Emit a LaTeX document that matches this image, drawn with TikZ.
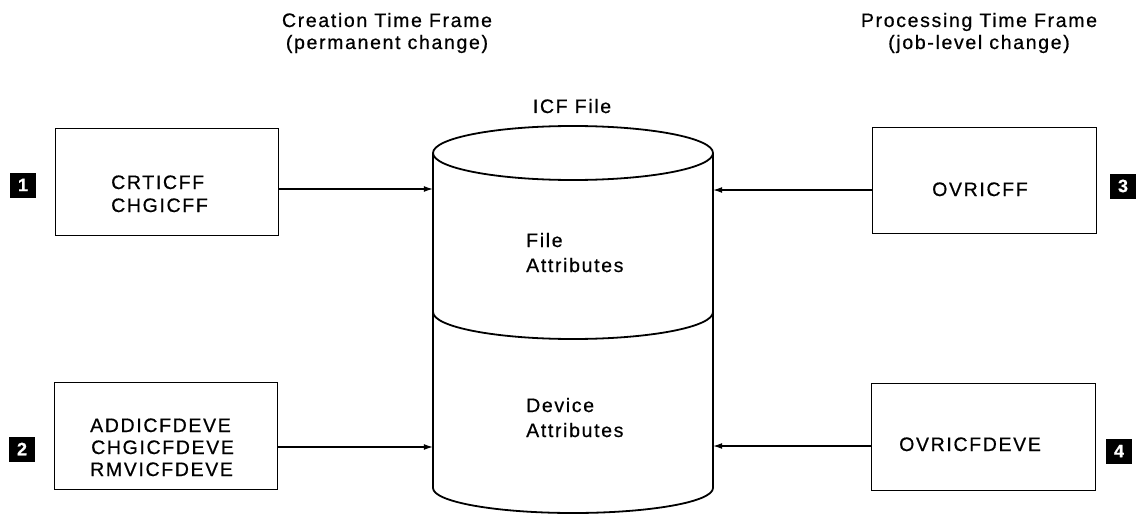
\documentclass[tikz,border=0pt]{standalone}
\usepackage{fontspec}
\setmainfont{Liberation Sans}[LetterSpace=8.5,FakeBold=0.6]
\usetikzlibrary{arrows.meta}
\begin{document}
\begin{tikzpicture}[x=1pt,y=-1pt,
  box/.style={draw,line width=1.3pt,inner sep=0pt},
  lbl/.style={inner sep=0pt,font=\fontsize{19.5}{23}\selectfont},
  badge/.style={fill=black,minimum width=26pt,minimum height=25pt,inner sep=0pt,text=white,font=\fontsize{18}{18}\bfseries\selectfont},
  arr/.style={line width=1.1pt,-{Latex[length=9pt,width=6pt]}},
  cyl/.style={line width=1.8pt}]
\useasboundingbox (0,0) rectangle (1142,516);

% headers
\node[lbl,anchor=base] (h1a) at (387,27) {Creation Time Frame};
\node[lbl,anchor=base] (h1b) at (387,49) {(permanent change)};
\node[lbl,anchor=base] (h2a) at (979,27) {Processing Time Frame};
\node[lbl,anchor=base] (h2b) at (979,49) {(job-level change)};

% boxes
\node[box,minimum width=223pt,minimum height=107pt,anchor=north west] (b1) at (55,128) {};
\node[box,minimum width=223pt,minimum height=107pt,anchor=north west] (b2) at (54,382) {};
\node[box,minimum width=224pt,minimum height=106pt,anchor=north west] (b3) at (872,127) {};
\node[box,minimum width=224pt,minimum height=107pt,anchor=north west] (b4) at (871,383) {};

\node[lbl,anchor=base west] (t1a) at (111,189) {CRTICFF};
\node[lbl,anchor=base west] (t1b) at (111,212) {CHGICFF};
\node[lbl,anchor=base west] (t2a) at (90,432) {ADDICFDEVE};
\node[lbl,anchor=base west] (t2b) at (91,454) {CHGICFDEVE};
\node[lbl,anchor=base west] (t2c) at (90,476) {RMVICFDEVE};
\node[lbl,anchor=base west] (t3) at (932,196) {OVRICFF};
\node[lbl,anchor=base west] (t4) at (899,451) {OVRICFDEVE};

% badges
\node[badge] (n1) at (23,185) {1};
\node[badge] (n2) at (22,449) {2};
\node[badge] (n3) at (1123,186) {3};
\node[badge] (n4) at (1119,451) {4};

% cylinder
\node[minimum width=280pt,minimum height=335pt,inner sep=0pt] (icf) at (573,320.5) {};
\draw[cyl] (573,153) ellipse [x radius=140pt,y radius=27pt];
\draw[cyl] (433,153) -- (433,488) arc[start angle=180,end angle=360,x radius=140pt,y radius=25pt] -- (713,153);
\draw[cyl] (433,312) arc[start angle=180,end angle=360,x radius=140pt,y radius=27pt];
\node[lbl,anchor=base] (icflbl) at (572,113) {ICF File};
\node[lbl,anchor=base west] (fa1) at (526,247) {File};
\node[lbl,anchor=base west] (fa2) at (526,272) {Attributes};
\node[lbl,anchor=base west] (da1) at (526,412) {Device};
\node[lbl,anchor=base west] (da2) at (526,437) {Attributes};

% connectors
\draw[arr] (b1.east |- t1a.base) -- (icf.west |- t1a.base);
\draw[arr] (b2.east |- 0,447) -- (icf.west |- 0,447);
\draw[arr] (b3.west |- 0,190) -- (icf.east |- 0,190);
\draw[arr] (b4.west |- 0,446) -- (icf.east |- 0,446);
\end{tikzpicture}
\end{document}
